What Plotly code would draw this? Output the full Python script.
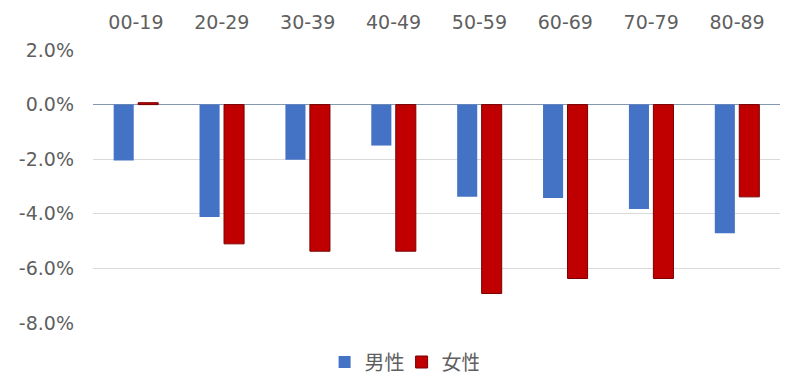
import plotly.graph_objects as go

categories = ["00-19", "20-29", "30-39", "40-49", "50-59", "60-69", "70-79", "80-89"]
male = [-2.05, -4.12, -2.02, -1.50, -3.38, -3.42, -3.82, -4.71]
female = [0.07, -5.10, -5.37, -5.37, -6.92, -6.37, -6.37, -3.38]
y_ticks = [2, 0, -2, -4, -6, -8]
y_labels = ["2.0%", "0.0%", "-2.0%", "-4.0%", "-6.0%", "-8.0%"]

font_family = "DejaVu Sans, Noto Sans CJK JP, sans-serif"

fig = go.Figure()
fig.add_trace(go.Bar(x=categories, y=male, name="男性",
                     marker=dict(color="#4472C4", line=dict(width=0))))
fig.add_trace(go.Bar(x=categories, y=female, name="女性",
                     marker=dict(color="#C00000", line=dict(color="#7a0000", width=1))))

fig.update_layout(
    width=800, height=391,
    margin=dict(l=85, r=28, t=42, b=76),
    paper_bgcolor="white", plot_bgcolor="white",
    barmode="group", bargap=0.43, bargroupgap=0.18,
    font=dict(family=font_family, color="#5f5f5f", size=19),
    showlegend=True,
    legend=dict(orientation="h", xref="container", yref="container",
                x=0.492, xanchor="center", y=0.0946, yanchor="middle",
                font=dict(size=20, color="#5f5f5f"), itemwidth=30,
                entrywidth=32, entrywidthmode="pixels", tracegroupgap=0),
)
fig.update_xaxes(side="top", showgrid=False, showline=False, zeroline=False, automargin=False,
                 ticks="", ticklabelstandoff=16, tickfont=dict(size=19, color="#5f5f5f"))
fig.update_yaxes(range=[-8, 2], tickvals=y_ticks, ticktext=y_labels, automargin=False,
                 showgrid=True, gridcolor="#d9d9d9", gridwidth=1,
                 zeroline=True, zerolinecolor="#8497b0", zerolinewidth=1,
                 showline=False, ticks="", ticklabelstandoff=18,
                 tickfont=dict(size=19, color="#5f5f5f"))

fig.write_html("out.html")
